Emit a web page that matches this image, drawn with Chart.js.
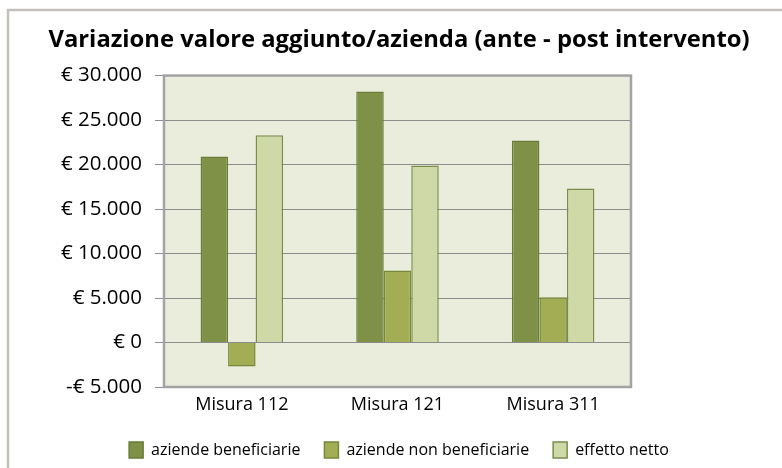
<!DOCTYPE html>
<html>
<head>
<meta charset="utf-8">
<script src="https://cdn.jsdelivr.net/npm/chart.js@4/dist/chart.umd.min.js"></script>
<style>
html,body{margin:0;padding:0;background:#fff;}
#wrap{width:782px;height:468px;position:relative;}
</style>
</head>
<body>
<div id="wrap"><canvas id="c" width="782" height="468"></canvas></div>
<script>
const title = "Variazione valore aggiunto/azienda (ante - post intervento)";
const categories = ["Misura 112", "Misura 121", "Misura 311"];
const seriesNames = ["aziende beneficiarie", "aziende non beneficiarie", "effetto netto"];
const beneficiarie = [20900, 28200, 22700];
const nonBeneficiarie = [-2700, 8100, 5100];
const effettoNetto = [23300, 19900, 17300];
const yTicks = [-5000, 0, 5000, 10000, 15000, 20000, 25000, 30000];

const FONT = "'Open Sans', Lato, sans-serif";

function fmtEuro(v) {
  const abs = Math.abs(v).toString().replace(/\B(?=(\d{3})+(?!\d))/g, ".");
  return (v < 0 ? "-" : "") + "\u20AC " + abs;
}

const decor = {
  id: "decor",
  beforeDraw(chart) {
    const ctx = chart.ctx, a = chart.chartArea;
    ctx.save();
    ctx.fillStyle = "#ffffff";
    ctx.fillRect(0, 0, chart.width, chart.height);
    ctx.strokeStyle = "#c4c0bb";
    ctx.lineWidth = 2.5;
    ctx.beginPath();
    ctx.moveTo(8, chart.height);
    ctx.lineTo(8, 10);
    ctx.lineTo(chart.width, 10);
    ctx.stroke();
    ctx.fillStyle = "#eaecdc";
    ctx.fillRect(a.left, a.top, a.right - a.left, a.bottom - a.top);
    ctx.restore();
  },
  afterDatasetsDraw(chart) {
    const ctx = chart.ctx, a = chart.chartArea;
    ctx.save();
    ctx.strokeStyle = "#a3a3a3";
    ctx.lineWidth = 2.5;
    ctx.strokeRect(a.left, a.top, a.right - a.left, a.bottom - a.top);
    ctx.restore();
  }
};

new Chart(document.getElementById("c"), {
  type: "bar",
  data: {
    labels: categories,
    datasets: [
      { label: seriesNames[0], data: beneficiarie, backgroundColor: "#7e9147", borderColor: "#6a7c38", borderWidth: 1.5 },
      { label: seriesNames[1], data: nonBeneficiarie, backgroundColor: "#a3ae54", borderColor: "#74873a", borderWidth: 1.5 },
      { label: seriesNames[2], data: effettoNetto, backgroundColor: "#cfd8a7", borderColor: "#7a8c4b", borderWidth: 1.5 }
    ]
  },
  options: {
    responsive: false,
    animation: false,
    devicePixelRatio: 1,
    categoryPercentage: 0.53,
    barPercentage: 1,
    layout: { padding: { left: 16, right: 0, top: 0, bottom: 0 } },
    plugins: {
      tooltip: { enabled: false },
      title: {
        display: true,
        text: title,
        color: "#000",
        font: { family: FONT, size: 23.8, weight: "bold" },
        padding: { top: 26, bottom: 21 }
      },
      legend: {
        position: "bottom",
        labels: {
          color: "#000",
          font: { family: FONT, size: 16 },
          boxWidth: 14,
          boxHeight: 16,
          padding: 24
        }
      }
    },
    scales: {
      x: {
        afterFit(scale) { scale.height = 31; },
        grid: { display: false, drawTicks: false },
        border: { display: false },
        ticks: { color: "#000", font: { family: FONT, size: 18 }, padding: 7 }
      },
      y: {
        position: "left",
        min: -5000,
        max: 30000,
        afterBuildTicks(scale) { scale.ticks = yTicks.map(v => ({ value: v })); },
        afterFit(scale) { scale.width = 148; },
        grid: { color: "#8c8c8c", lineWidth: 1, tickLength: 9, drawTicks: true },
        border: { display: false },
        ticks: {
          color: "#000",
          font: { family: FONT, size: 20.5 },
          padding: 13,
          callback: (v) => fmtEuro(v)
        }
      },
      yRight: {
        position: "right",
        display: true,
        afterFit(scale) { scale.width = 151; },
        grid: { display: false },
        border: { display: false },
        ticks: { display: false }
      }
    }
  },
  plugins: [decor]
});
</script>
</body>
</html>
